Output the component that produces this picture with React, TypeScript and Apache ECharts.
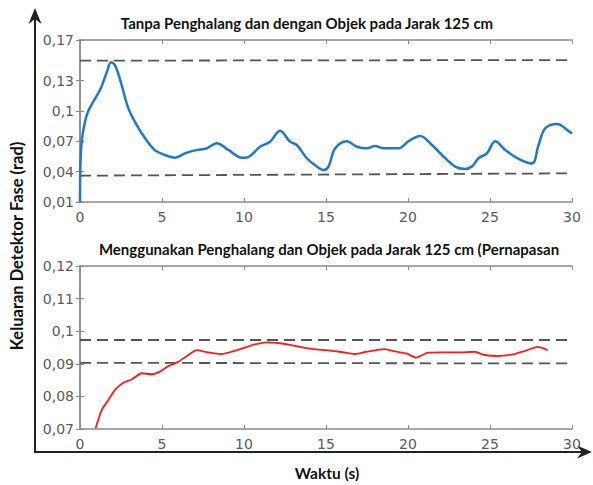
import React, { useEffect, useRef } from "react";
import * as echarts from "echarts";

// ---- Data ----
const topTitle = "Tanpa Penghalang dan dengan Objek pada Jarak 125 cm";
const bottomTitle = "Menggunakan Penghalang dan Objek pada Jarak 125 cm (Pernapasan";
const yAxisTitle = "Keluaran Detektor Fase (rad)";
const xAxisTitle = "Waktu (s)";

const xTicks = [0, 5, 10, 15, 20, 25, 30];
const xTickLabels = ["0", "5", "10", "15", "20", "25", "30"];

const topYTicks = [0.01, 0.04, 0.07, 0.1, 0.13, 0.17];
const topYTickLabels = ["0,01", "0,04", "0,07", "0,1", "0,13", "0,17"];
const bottomYTicks = [0.07, 0.08, 0.09, 0.1, 0.11, 0.12];
const bottomYTickLabels = ["0,07", "0,08", "0,09", "0,1", "0,11", "0,12"];

// Top signal (time s, phase rad)
const topTime = [
  0, 0.02, 0.1, 0.3, 0.51, 0.81, 1.22, 1.45, 1.65, 1.89, 2.14, 2.54, 2.95, 3.46, 3.97,
  4.58, 5.19, 5.8, 6.4, 7.02, 7.73, 8.34, 9.05, 9.86, 10.17, 10.98, 11.59, 12.2,
  12.81, 13.22, 13.83, 14.44, 14.85, 15.15, 15.56, 16.27, 16.88, 17.49, 18.0, 18.5,
  19.42, 20.03, 20.74, 21.46, 22.07, 22.88, 23.49, 23.9, 24.3, 24.81, 25.32, 25.93,
  26.74, 27.56, 27.96, 28.37, 29.08, 29.9, 30,
];
const topValue = [
  0.01, 0.043, 0.0696, 0.089, 0.1, 0.109, 0.1206, 0.13, 0.139, 0.148, 0.145, 0.1255,
  0.1025, 0.086, 0.073, 0.061, 0.0564, 0.0538, 0.058, 0.061, 0.063, 0.068, 0.0614,
  0.0538, 0.054, 0.0646, 0.0696, 0.0804, 0.0696, 0.0663, 0.0532, 0.045, 0.0416,
  0.045, 0.063, 0.07, 0.0646, 0.063, 0.0653, 0.063, 0.063, 0.07, 0.0752, 0.0663,
  0.0564, 0.0449, 0.0426, 0.045, 0.0532, 0.058, 0.07, 0.0614, 0.0525, 0.048, 0.0663,
  0.0828, 0.087, 0.0788, 0.0775,
];
const topUpperLimit = [0.1496, 0.1502];
const topLowerLimit = [0.036, 0.0383];

// Bottom signal (breathing)
const bottomTime = [
  0.95, 1.32, 1.73, 2.13, 2.64, 3.15, 3.76, 4.37, 4.87, 5.38, 5.99, 6.6, 7.11, 7.81,
  8.63, 9.24, 9.95, 10.56, 11.37, 12.18, 12.79, 13.4, 13.8, 14.41, 15.02, 15.83,
  16.75, 17.46, 18.57, 19.29, 19.9, 20.5, 21.21, 22.03, 23.04, 24.06, 24.67, 25.47,
  26.29, 27.1, 27.91, 28.52,
];
const bottomValue = [
  0.0702, 0.0758, 0.0789, 0.082, 0.0842, 0.0852, 0.0871, 0.0868, 0.0876, 0.0893,
  0.0906, 0.0927, 0.0942, 0.0935, 0.093, 0.0937, 0.0948, 0.0958, 0.0966, 0.0963,
  0.0958, 0.0952, 0.0948, 0.0944, 0.0942, 0.0937, 0.093, 0.0937, 0.0945, 0.0937,
  0.0932, 0.0919, 0.0934, 0.0935, 0.0935, 0.0937, 0.0927, 0.0924, 0.0928, 0.0939,
  0.0952, 0.0942,
];
const bottomUpperLimit = [0.0973, 0.0973];
const bottomLowerLimit = [0.0903, 0.0901];
const limitTime = [0, 30];

const W = 593;
const H = 485;
const tickColor = "#5a5a5a";
const boxColor = "#8a8a8a";
const dashColor = "#555555";

function zipPairs(xs: number[], ys: number[]) {
  return xs.map((x, i) => [x, ys[i]]);
}

function lookupLabel(ticks: number[], labels: string[]) {
  return (v: number) => {
    for (let i = 0; i < ticks.length; i++) {
      if (Math.abs(ticks[i] - v) < 1e-9) return labels[i];
    }
    return "";
  };
}

export default function App() {
  const ref = useRef<HTMLDivElement>(null);
  useEffect(() => {
    if (!ref.current) return;
    const chart = echarts.init(ref.current, undefined, { renderer: "svg" });
    const labelFont = { fontFamily: "DejaVu Sans", fontSize: 14, color: tickColor };

    const mkX = (gridIndex: number) => [
      {
        type: "value",
        gridIndex,
        min: 0,
        max: 30,
        interval: 5,
        position: "bottom",
        axisLine: { show: true, lineStyle: { color: boxColor, width: 1.5 } },
        axisTick: { show: true, inside: true, length: 4, lineStyle: { color: boxColor } },
        axisLabel: {
          ...labelFont,
          margin: 8,
          customValues: xTicks,
          formatter: lookupLabel(xTicks, xTickLabels),
        },
        splitLine: { show: false },
      },
      {
        type: "value",
        gridIndex,
        min: 0,
        max: 30,
        interval: 5,
        position: "top",
        axisLine: { show: true, lineStyle: { color: boxColor, width: 1.5 } },
        axisTick: { show: true, inside: true, length: 4, lineStyle: { color: boxColor } },
        axisLabel: { show: false },
        splitLine: { show: false },
      },
    ];
    const mkY = (gridIndex: number, min: number, max: number, ticks: number[], labels: string[]) => [
      {
        type: "value",
        gridIndex,
        min,
        max,
        position: "left",
        axisLine: { show: true, lineStyle: { color: boxColor, width: 1.5 } },
        axisTick: { show: true, inside: true, length: 4, customValues: ticks, lineStyle: { color: boxColor } },
        axisLabel: { ...labelFont, margin: 6, customValues: ticks, formatter: lookupLabel(ticks, labels) },
        splitLine: { show: false },
      },
      {
        type: "value",
        gridIndex,
        min,
        max,
        position: "right",
        axisLine: { show: true, lineStyle: { color: boxColor, width: 1.5 } },
        axisTick: { show: true, inside: true, length: 4, customValues: ticks, lineStyle: { color: boxColor } },
        axisLabel: { show: false, customValues: ticks },
        splitLine: { show: false },
      },
    ];

    const dashStyle = { color: dashColor, width: 1.8, type: [11, 6] as any };
    const limitSeries = (xi: number, yi: number, vals: number[]) => ({
      type: "line",
      xAxisIndex: xi,
      yAxisIndex: yi,
      data: zipPairs(limitTime, vals),
      showSymbol: false,
      lineStyle: dashStyle,
      silent: true,
      z: 1,
    });

    const option: any = {
      animation: false,
      backgroundColor: "#ffffff",
      grid: [
        { left: 80, top: 40, width: 492, height: 162 },
        { left: 80, top: 266, width: 492, height: 163 },
      ],
      xAxis: [...mkX(0), ...mkX(1)],
      yAxis: [
        ...mkY(0, 0.01, 0.17, topYTicks, topYTickLabels),
        ...mkY(1, 0.07, 0.12, bottomYTicks, bottomYTickLabels),
      ],
      series: [
        limitSeries(0, 0, topUpperLimit),
        limitSeries(0, 0, topLowerLimit),
        {
          type: "line",
          xAxisIndex: 0,
          yAxisIndex: 0,
          data: zipPairs(topTime, topValue),
          showSymbol: false,
          smooth: 0.35,
          lineStyle: { color: "#1f78c8", width: 2.5 },
          z: 3,
        },
        limitSeries(2, 2, bottomUpperLimit),
        limitSeries(2, 2, bottomLowerLimit),
        {
          type: "line",
          xAxisIndex: 2,
          yAxisIndex: 2,
          data: zipPairs(bottomTime, bottomValue),
          showSymbol: false,
          smooth: 0.2,
          lineStyle: { color: "#ff1a1a", width: 1.8 },
          z: 3,
        },
      ],
      graphic: [
        {
          type: "text",
          x: 307,
          y: 23,
          style: {
            text: topTitle,
            font: "bold 15px Lato",
            fill: "#111",
            align: "center",
            verticalAlign: "middle",
          },
        },
        {
          type: "text",
          x: 329,
          y: 249,
          style: {
            text: bottomTitle,
            font: "bold 15px Lato",
            fill: "#111",
            align: "center",
            verticalAlign: "middle",
          },
        },
        {
          type: "text",
          x: 17,
          y: 246,
          rotation: Math.PI / 2,
          style: {
            text: yAxisTitle,
            font: "bold 16.5px Lato",
            fill: "#111",
            align: "center",
            verticalAlign: "middle",
          },
        },
        {
          type: "text",
          x: 327,
          y: 473,
          style: {
            text: xAxisTitle,
            font: "bold 15.5px Lato",
            fill: "#111",
            align: "center",
            verticalAlign: "middle",
          },
        },
        {
          type: "line",
          shape: { x1: 35, y1: 452, x2: 35, y2: 16 },
          style: { stroke: "#222", lineWidth: 2 },
        },
        {
          type: "polygon",
          shape: { points: [[35, 8], [41.5, 24], [35, 19], [28.5, 24]] },
          style: { fill: "#222" },
        },
        {
          type: "line",
          shape: { x1: 34, y1: 452, x2: 585, y2: 452 },
          style: { stroke: "#222", lineWidth: 2 },
        },
        {
          type: "polygon",
          shape: { points: [[592, 452], [577, 445.5], [582, 452], [577, 458.5]] },
          style: { fill: "#222" },
        },
      ],
    };
    chart.setOption(option);
    return () => chart.dispose();
  }, []);
  return (
    <div
      ref={ref}
      style={{ position: "fixed", left: 0, top: 0, width: W, height: H, background: "#fff" }}
    />
  );
}
